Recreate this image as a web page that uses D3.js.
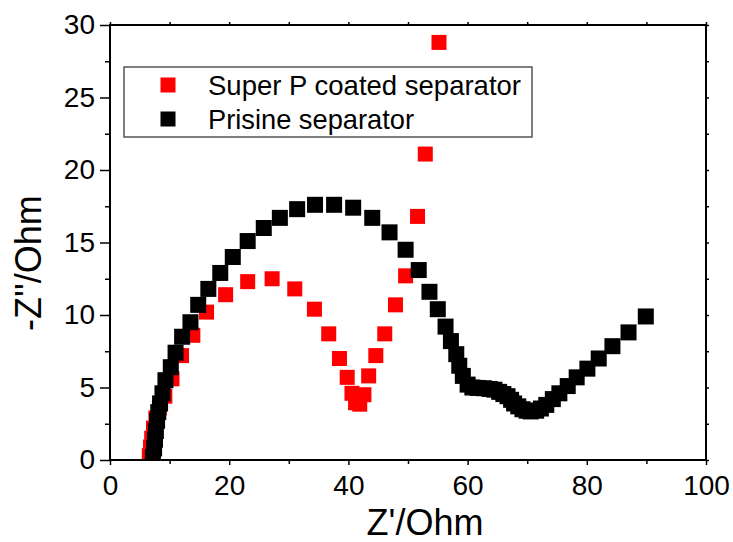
<!DOCTYPE html>
<html><head><meta charset="utf-8">
<script src="https://cdn.jsdelivr.net/npm/d3@7"></script>
<style>body{margin:0;background:#fff}</style>
</head><body>
<svg id="c" width="733" height="542"></svg>
<script>
const xTicks = [0, 20, 40, 60, 80, 100];
const yTicks = [0, 5, 10, 15, 20, 25, 30];
const xMinor = [10, 30, 50, 70, 90];
const yMinor = [2.5, 7.5, 12.5, 17.5, 22.5, 27.5];
const seriesNames = ["Super P coated separator", "Prisine separator"];
const seriesColors = ["#ff0000", "#000000"];
const xTitle = "Z'/Ohm";
const yTitle = "-Z''/Ohm";

const superPX = [6.6, 6.8, 7.0, 7.3, 7.7, 8.3, 9.2, 10.4, 12.0, 13.9, 16.2, 19.4, 23.1, 27.2, 31.0, 34.3, 36.7, 38.5, 39.8, 40.6, 41.2, 41.9, 42.6, 43.4, 44.6, 46.1, 47.9, 49.6, 51.6, 52.9, 55.2];
const superPY = [0.3, 0.9, 1.5, 2.2, 2.9, 3.6, 4.4, 5.6, 7.2, 8.6, 10.2, 11.4, 12.3, 12.5, 11.8, 10.4, 8.7, 7.0, 5.7, 4.6, 3.95, 3.85, 4.5, 5.8, 7.2, 8.7, 10.7, 12.7, 16.8, 21.1, 28.8];

const pristineX = [7.2, 7.4, 7.55, 7.7, 7.9, 8.1, 8.4, 8.8, 9.3, 10.2, 11.0, 12.1, 13.5, 14.8, 16.5, 18.5, 20.6, 23.1, 25.8, 28.5, 31.4, 34.4, 37.6, 40.8, 44.0, 46.9, 49.6, 51.8, 53.6, 55.0, 56.3, 57.2, 58.1, 58.6, 59.2, 60.0, 60.8, 61.7, 62.7, 63.7, 64.5, 65.3, 66.0, 66.7, 67.3, 67.8, 68.5, 69.2, 69.9, 70.6, 71.5, 72.3, 73.2, 74.3, 75.4, 76.8, 78.3, 80.1, 82.0, 84.3, 87.0, 89.9];
const pristineY = [0.2, 0.8, 1.4, 2.0, 2.7, 3.3, 3.9, 4.6, 5.5, 6.4, 7.4, 8.5, 9.5, 10.7, 11.8, 12.9, 14.0, 15.1, 16.0, 16.7, 17.3, 17.6, 17.6, 17.4, 16.7, 15.7, 14.5, 13.1, 11.6, 10.4, 9.2, 8.2, 7.3, 6.5, 5.8, 5.2, 5.0, 4.97, 4.95, 4.9, 4.85, 4.7, 4.55, 4.4, 4.15, 3.9, 3.7, 3.5, 3.4, 3.35, 3.4, 3.55, 3.8, 4.2, 4.6, 5.1, 5.7, 6.3, 7.0, 7.85, 8.8, 9.9];

const L = 110, R = 706, T = 25, B = 460;
const FONT = "'Liberation Sans', Arial, Helvetica, sans-serif";
const svg = d3.select("#c");
svg.append("rect").attr("width", 733).attr("height", 542).attr("fill", "#fff");

const x = d3.scaleLinear().domain([0, 100]).range([L, R]);
const y = d3.scaleLinear().domain([0, 30]).range([B, T]);

svg.append("defs").append("clipPath").attr("id", "clip")
  .append("rect").attr("x", L).attr("y", T).attr("width", R - L).attr("height", B - T);

// data
const series = [
  {name: seriesNames[0], color: seriesColors[0], size: 15, pts: superPX.map((v, i) => [v, superPY[i]]), tl: 313},
  {name: seriesNames[1], color: seriesColors[1], size: 16, pts: pristineX.map((v, i) => [v, pristineY[i]]), tl: 206}
];
const plot = svg.append("g").attr("clip-path", "url(#clip)");
series.forEach(s => {
  plot.append("g").selectAll("rect").data(s.pts).join("rect")
    .attr("x", d => x(d[0]) - s.size / 2)
    .attr("y", d => y(d[1]) - s.size / 2)
    .attr("width", s.size).attr("height", s.size)
    .attr("fill", s.color);
});

// axes
function styleAxis(g) {
  g.select(".domain").remove();
  g.selectAll("line").attr("stroke", "#000").attr("stroke-width", 1.5);
  g.selectAll("text").attr("font-family", FONT).attr("font-size", 28).attr("fill", "#000");
}
svg.append("g").attr("transform", `translate(0,${B})`)
  .call(d3.axisBottom(x).tickValues(xTicks).tickSize(5).tickPadding(10).tickFormat(d3.format("d")))
  .call(styleAxis);
svg.append("g").attr("transform", `translate(0,${B})`)
  .call(d3.axisBottom(x).tickValues(xMinor).tickSize(4).tickFormat(""))
  .call(styleAxis);
svg.append("g").attr("transform", `translate(${L},0)`)
  .call(d3.axisLeft(y).tickValues(yTicks).tickSize(10).tickPadding(5).tickFormat(d3.format("d")))
  .call(styleAxis);
svg.append("g").attr("transform", `translate(${L},0)`)
  .call(d3.axisLeft(y).tickValues(yMinor).tickSize(5).tickFormat(""))
  .call(styleAxis);
svg.append("g").attr("transform", `translate(0,${T})`)
  .call(d3.axisTop(x).tickValues(xTicks.concat(xMinor)).tickSize(3).tickFormat(""))
  .call(styleAxis);
svg.append("g").attr("transform", `translate(${R},0)`)
  .call(d3.axisRight(y).tickValues(yTicks.concat(yMinor)).tickSize(3).tickFormat(""))
  .call(styleAxis);

// frame
svg.append("rect").attr("x", L).attr("y", T).attr("width", R - L).attr("height", B - T)
  .attr("fill", "none").attr("stroke", "#000").attr("stroke-width", 2);

// titles
svg.append("text").attr("x", 425).attr("y", 535).attr("text-anchor", "middle")
  .attr("font-family", FONT).attr("font-size", 36).text(xTitle);
svg.append("text").attr("transform", "translate(41,263) rotate(-90)").attr("text-anchor", "middle")
  .attr("font-family", FONT).attr("font-size", 36).text(yTitle);

// legend
const lg = svg.append("g");
lg.append("rect").attr("x", 124).attr("y", 67).attr("width", 408).attr("height", 70)
  .attr("fill", "#fff").attr("stroke", "#555").attr("stroke-width", 1.5);
series.forEach((s, i) => {
  const cy = 85 + i * 34;
  lg.append("rect").attr("x", 168 - 7.5).attr("y", cy - 7.5).attr("width", 15).attr("height", 15).attr("fill", s.color);
  lg.append("text").attr("x", 208).attr("y", cy + 10).attr("font-family", FONT).attr("font-size", 28.5)
    .attr("textLength", s.tl).attr("lengthAdjust", "spacingAndGlyphs")
    .text(s.name);
});
</script>
</body></html>
